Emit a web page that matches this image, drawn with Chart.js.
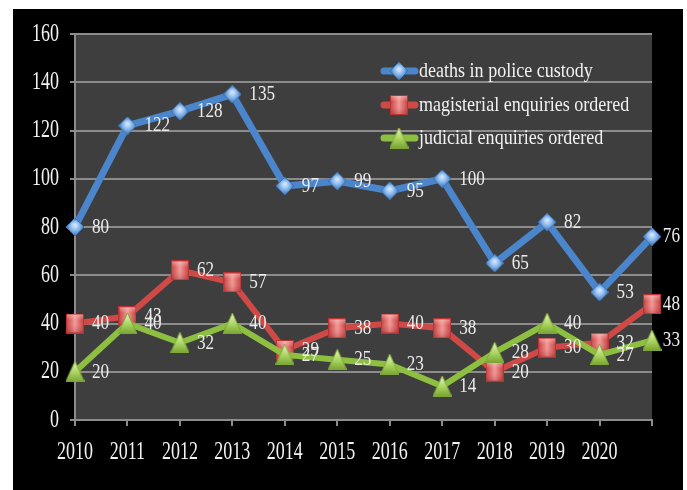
<!DOCTYPE html>
<html>
<head>
<meta charset="utf-8">
<script src="https://cdn.jsdelivr.net/npm/chart.js@4/dist/chart.umd.min.js"></script>
<style>
  html, body { margin: 0; padding: 0; background: #ffffff; }
  #wrap { width: 687px; height: 490px; position: relative; }
  canvas { display: block; }
</style>
</head>
<body>
<div id="wrap"><canvas id="c" width="687" height="490" style="width:687px;height:490px"></canvas></div>
<script>
// Years on the category axis (the final point carries no year label)
const years = ['2010', '2011', '2012', '2013', '2014', '2015', '2016', '2017', '2018', '2019', '2020', ''];
const yTickLabels = ['0', '20', '40', '60', '80', '100', '120', '140', '160'];

const deathsInCustody = [80, 122, 128, 135, 97, 99, 95, 100, 65, 82, 53, 76];
const magisterialEnquiries = [40, 43, 62, 57, 29, 38, 40, 38, 20, 30, 32, 48];
const judicialEnquiries = [20, 40, 32, 40, 27, 25, 23, 14, 28, 40, 27, 33];

const seriesNames = ['deaths in police custody', 'magisterial enquiries ordered', 'judicial enquiries ordered'];
const seriesColors = ['#4b86cc', '#cf4a47', '#8dbf41'];

const SERIF = '"Liberation Serif", "Times New Roman", serif';

// ---- marker glyphs with a soft bevelled look ----
function makeDiamond() {
  const w = 18, h = 18, c = document.createElement('canvas');
  c.width = w; c.height = h;
  const g = c.getContext('2d');
  g.beginPath();
  g.moveTo(w / 2, 0); g.lineTo(w, h / 2); g.lineTo(w / 2, h); g.lineTo(0, h / 2); g.closePath();
  const grad = g.createRadialGradient(w / 2, h / 2 - 2, 1, w / 2, h / 2, w / 2);
  grad.addColorStop(0, '#cfe4fb');
  grad.addColorStop(0.45, '#8ab8ec');
  grad.addColorStop(1, '#3a70b3');
  g.fillStyle = grad; g.fill();
  g.strokeStyle = '#3b72b5'; g.lineWidth = 1; g.stroke();
  return c;
}
function makeSquare() {
  const w = 18, h = 20, c = document.createElement('canvas');
  c.width = w; c.height = h;
  const g = c.getContext('2d');
  const grad = g.createLinearGradient(0, 0, w, 0);
  grad.addColorStop(0, '#c23a3a');
  grad.addColorStop(0.5, '#f39a97');
  grad.addColorStop(1, '#c23a3a');
  g.fillStyle = grad; g.fillRect(0, 0, w, h);
  const top = g.createLinearGradient(0, 0, 0, h);
  top.addColorStop(0, 'rgba(255,220,220,0.55)');
  top.addColorStop(0.35, 'rgba(255,200,200,0)');
  top.addColorStop(1, 'rgba(140,20,20,0.35)');
  g.fillStyle = top; g.fillRect(0, 0, w, h);
  g.strokeStyle = '#b83333'; g.lineWidth = 1; g.strokeRect(0.5, 0.5, w - 1, h - 1);
  return c;
}
function makeTriangle() {
  const w = 19, h = 21, c = document.createElement('canvas');
  c.width = w; c.height = h;
  const g = c.getContext('2d');
  g.beginPath();
  g.moveTo(w / 2, 0); g.lineTo(w, h); g.lineTo(0, h); g.closePath();
  const grad = g.createLinearGradient(0, 0, 0, h);
  grad.addColorStop(0, '#eaf7c4');
  grad.addColorStop(0.55, '#a9d35e');
  grad.addColorStop(1, '#76a232');
  g.fillStyle = grad; g.fill();
  g.strokeStyle = '#7fab38'; g.lineWidth = 1; g.stroke();
  return c;
}
const markers = [makeDiamond(), makeSquare(), makeTriangle()];

// Condensed serif text: draw with a horizontal squeeze
function drawText(ctx, text, x, y, align, size, sx, color) {
  ctx.save();
  ctx.font = size + 'px ' + SERIF;
  ctx.fillStyle = color;
  ctx.textBaseline = 'middle';
  ctx.textAlign = align;
  ctx.translate(x, y);
  ctx.scale(sx, 1);
  ctx.fillText(text, 0, 0);
  ctx.restore();
}

const backdrop = {
  id: 'backdrop',
  beforeDraw(chart) {
    const ctx = chart.ctx, a = chart.chartArea;
    ctx.save();
    ctx.fillStyle = '#ffffff';
    ctx.fillRect(0, 0, chart.width, chart.height);
    ctx.fillStyle = '#000000';
    ctx.fillRect(13, 9, 670, 481);
    ctx.fillStyle = '#3e3e3e';
    ctx.fillRect(a.left, a.top, a.right - a.left, a.bottom - a.top);
    ctx.restore();
  }
};

const labelsPlugin = {
  id: 'textLayer',
  afterDraw(chart) {
    const ctx = chart.ctx;
    const xs = chart.scales.x, ys = chart.scales.y;
    // value axis labels
    yTickLabels.forEach(t => {
      drawText(ctx, t, 59, ys.getPixelForValue(Number(t)), 'right', 25, 0.72, '#f2f2f2');
    });
    // year labels
    years.forEach((t, i) => {
      if (t) drawText(ctx, t, xs.getPixelForValue(i), 452, 'center', 25, 0.72, '#f2f2f2');
    });
    // point value labels, to the right of each point
    chart.data.datasets.forEach((ds, di) => {
      const meta = chart.getDatasetMeta(di);
      meta.data.forEach((pt, i) => {
        const txt = String(ds.data[i]);
        ctx.save();
        ctx.font = '22px ' + SERIF;
        const w = ctx.measureText(txt).width * 0.78;
        ctx.restore();
        let x = pt.x + 17;
        if (x + w > 680) x = 680 - w;
        drawText(ctx, txt, x, pt.y, 'left', 22, 0.78, '#ececec');
      });
    });
    // legend
    const rows = [71, 105, 138];
    seriesNames.forEach((name, i) => {
      const y = rows[i];
      ctx.save();
      ctx.strokeStyle = seriesColors[i];
      ctx.lineWidth = 7;
      ctx.lineCap = 'round';
      ctx.beginPath();
      ctx.moveTo(384, y); ctx.lineTo(415, y);
      ctx.stroke();
      const m = markers[i];
      ctx.drawImage(m, 399 - m.width / 2, y - m.height / 2);
      ctx.restore();
      drawText(ctx, name, 419, y, 'left', 22, 0.82, '#f2f2f2');
    });
  }
};

const chart = new Chart(document.getElementById('c'), {
  type: 'line',
  data: {
    labels: years,
    datasets: [
      { label: seriesNames[0], data: deathsInCustody, borderColor: seriesColors[0], borderWidth: 7,
        pointStyle: markers[0], pointRadius: 9, order: 2 },
      { label: seriesNames[1], data: magisterialEnquiries, borderColor: seriesColors[1], borderWidth: 6,
        pointStyle: markers[1], pointRadius: 9, order: 1 },
      { label: seriesNames[2], data: judicialEnquiries, borderColor: seriesColors[2], borderWidth: 6,
        pointStyle: markers[2], pointRadius: 9, order: 0 }
    ]
  },
  options: {
    responsive: false,
    animation: false,
    devicePixelRatio: 1,
    layout: { padding: { top: 34, right: 35, left: 0, bottom: 0 } },
    plugins: { legend: { display: false }, tooltip: { enabled: false } },
    elements: { line: { tension: 0, borderJoinStyle: 'round' } },
    scales: {
      x: {
        type: 'category',
        offset: false,
        ticks: { display: false },
        grid: { drawOnChartArea: false, drawTicks: true, tickLength: 6, color: '#8c8c8c', lineWidth: 2 },
        border: { display: true, color: '#8c8c8c', width: 2 },
        afterFit(scale) { scale.height = 70; }
      },
      y: {
        min: 0, max: 160,
        ticks: { display: false, stepSize: 20 },
        grid: { drawTicks: true, tickLength: 5, color: '#8c8c8c', lineWidth: 2 },
        border: { display: true, color: '#8c8c8c', width: 2 },
        afterFit(scale) { scale.width = 75; }
      }
    }
  },
  plugins: [backdrop, labelsPlugin]
});
</script>
</body>
</html>
